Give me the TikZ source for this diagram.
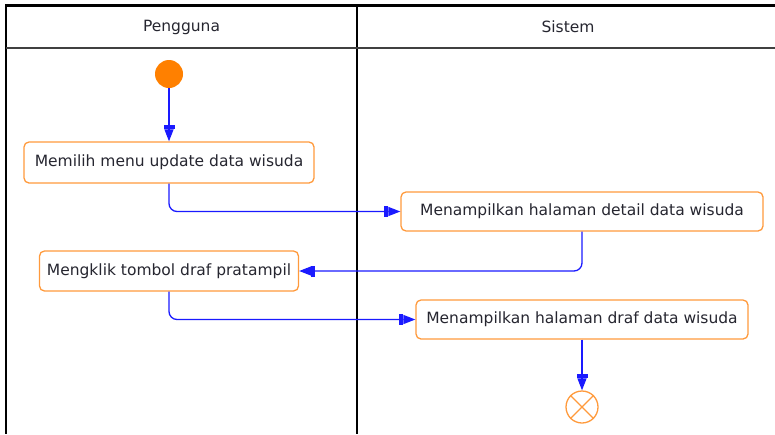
\documentclass[tikz,border=0pt]{standalone}
\usepackage{fontspec}
\setmainfont{DejaVu Sans}
\usetikzlibrary{arrows.meta}

\definecolor{actorange}{HTML}{FF9A3C}
\definecolor{startorange}{HTML}{FF8000}
\definecolor{flowblue}{HTML}{1A1AFF}
\definecolor{labelgray}{HTML}{262630}

\begin{document}
\begin{tikzpicture}[x=1pt,y=-1pt,
                    font=\fontsize{15.5}{18}\selectfont,
                    arrow/.style = {flowblue,line width=1.3pt,rounded corners=8pt,
                                    -{Rectangle[length=4pt,width=11pt]Triangle[length=12pt,width=9pt]}},
                    activity/.style = {draw=actorange,line width=1.3pt,fill=white,
                                       rounded corners=5pt,text=labelgray,inner sep=0pt},
                    lane/.style = {text=labelgray}]
                    \useasboundingbox (0,0) rectangle (775,434);

                    \draw[line width=3pt]            (6,5.5)  -- (775,5.5);
                    \draw[line width=2.4pt]          (6,4)    -- (6,434);
                    \draw[line width=2pt]            (357,5)  -- (357,434);
                    \draw[black!75,line width=2pt]   (6,48)   -- (775,48);

                    \node[lane] (pengguna) at (181.5,27) {Pengguna};
                    \node[lane] (sistem)   at (568,27)   {Sistem};

                    \node[circle,fill=startorange,minimum size=28pt,inner sep=0pt] (mulai) at (169,74) {};

                    \node[activity,minimum width=290pt,minimum height=41pt] (pilih)     at (169,162.5) {Memilih menu update data wisuda};
                    \node[activity,minimum width=362pt,minimum height=39pt] (detail)    at (582,211.5) {Menampilkan halaman detail data wisuda};
                    \node[activity,minimum width=259pt,minimum height=40pt] (pratampil) at (169,271)   {Mengklik tombol draf pratampil};
                    \node[activity,minimum width=332pt,minimum height=39pt] (draf)      at (582,319.5) {Menampilkan halaman draf data wisuda};

                    \node[circle,draw=actorange,line width=1.3pt,minimum size=32pt,inner sep=0pt] (selesai) at (582,407) {};
                    \draw[actorange,line width=1.3pt] (selesai.45) -- (selesai.225) (selesai.135) -- (selesai.315);

                    \draw[arrow] (mulai) -- (pilih);
                    \draw[arrow] (pilih.south) |- (detail.west);
                    \draw[arrow] (detail.south) |- (pratampil.east);
                    \draw[arrow] (pratampil.south) |- (draf.west);
                    \draw[arrow] (draf) -- (selesai);

                \end{tikzpicture}
\end{document}
